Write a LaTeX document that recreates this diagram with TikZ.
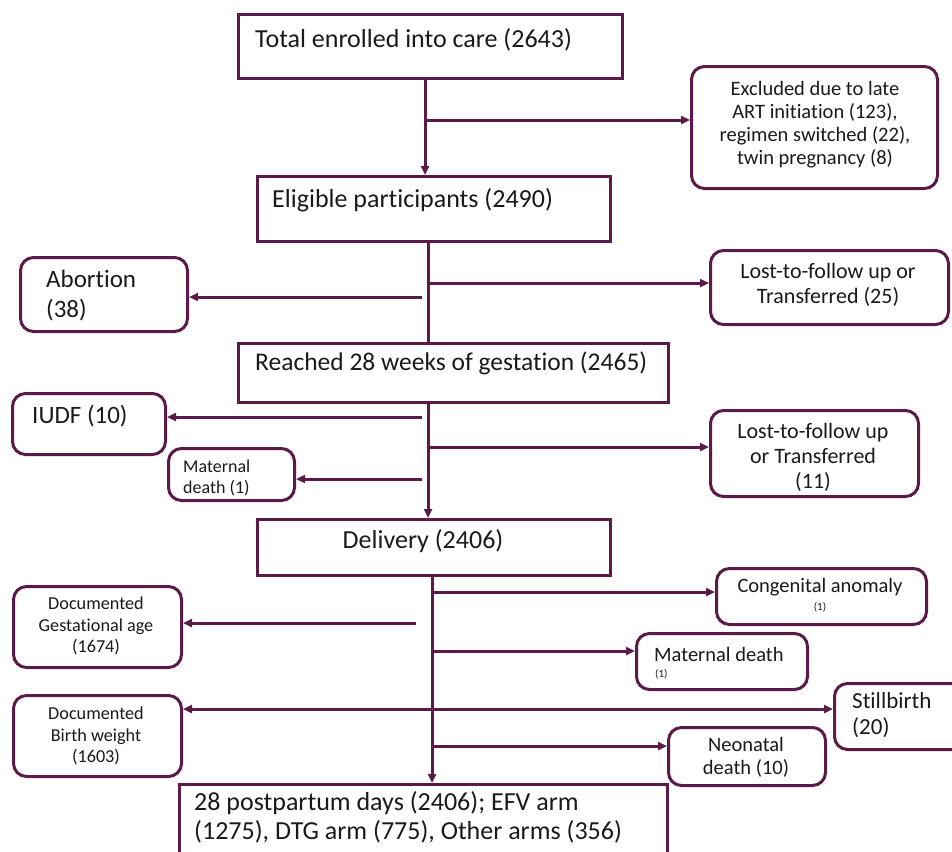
\documentclass[tikz,border=0pt]{standalone}
\usepackage{fontspec}
\setmainfont[Ligatures=NoCommon]{Carlito}
\usetikzlibrary{arrows.meta}
\definecolor{mar}{HTML}{5B1A47}
\definecolor{ink}{HTML}{1A1A1A}
\begin{document}
\begin{tikzpicture}[x=1pt,y=-1pt,
  sq/.style={draw=mar, line width=3pt, anchor=north west, inner sep=0pt, fill=white},
  rd/.style={sq, rounded corners=13pt},
  arr/.style={draw=mar, line width=3pt, -{Triangle[length=9pt,width=8pt]}},
  ln/.style={draw=mar, line width=3pt},
  tx/.style={text=ink, inner sep=0pt},
  fA/.style={tx, font=\fontsize{26}{30}\selectfont},
  fR/.style={tx, font=\fontsize{25.5}{30}\selectfont},
  fP/.style={tx, font=\fontsize{26}{29}\selectfont},
  fB/.style={tx, font=\fontsize{25}{30}\selectfont},
  fS/.style={tx, font=\fontsize{23}{26}\selectfont},
  fC/.style={tx, font=\fontsize{22}{25}\selectfont},
  fD/.style={tx, font=\fontsize{20.5}{23}\selectfont},
  fE/.style={tx, font=\fontsize{18.2}{21.5}\selectfont},
  fF/.style={tx, font=\fontsize{18}{21.5}\selectfont},
  fG/.style={tx, font=\fontsize{11}{13}\selectfont},
]
\useasboundingbox (0,0) rectangle (952,851);
\clip (0,0) rectangle (952,851);

% boxes
\node[sq, minimum width=384pt, minimum height=64pt] (total) at (237,13) {};
\node[rd, minimum width=246pt, minimum height=122pt] (excl) at (690,65) {};
\node[sq, minimum width=353pt, minimum height=65pt] (elig) at (256,175) {};
\node[rd, minimum width=167pt, minimum height=74pt] (abort) at (19,256) {};
\node[rd, minimum width=238pt, minimum height=74pt] (ltfa) at (709,249) {};
\node[sq, minimum width=430pt, minimum height=59pt] (reach) at (237,342) {};
\node[rd, minimum width=153pt, minimum height=61pt] (iudf) at (11,392) {};
\node[rd, minimum width=208pt, minimum height=86pt] (ltfb) at (709,409) {};
\node[rd, minimum width=126pt, minimum height=52pt] (matA) at (167,447) {};
\node[sq, minimum width=353pt, minimum height=56pt] (deliv) at (256,518) {};
\node[rd, minimum width=210pt, minimum height=56pt] (cong) at (715,567) {};
\node[rd, minimum width=168pt, minimum height=81pt] (gest) at (12,585) {};
\node[rd, minimum width=171pt, minimum height=56pt] (matB) at (635,632) {};
\node[rd, minimum width=168pt, minimum height=81pt] (bw) at (12,694) {};
\node[rd, minimum width=140pt, minimum height=66pt] (still) at (833,682) {};
\node[rd, minimum width=157pt, minimum height=58pt] (neo) at (667,726) {};
\node[sq, minimum width=488pt, minimum height=90pt] (post) at (178,783) {};

% texts
\node[fA, anchor=west] at (255,40) {Total enrolled into care (2643)};
\node[fD, align=center] at (815,125) {Excluded due to late\\ART initiation (123),\\regimen switched (22),\\twin pregnancy (8)};
\node[fA, anchor=west] at (272,200) {Eligible participants (2490)};
\node[fB, anchor=west, align=left] at (46,296) {Abortion\\(38)};
\node[fC, align=center] at (828,285) {Lost-to-follow up or\\Transferred (25)};
\node[fR, anchor=west] at (255,363) {Reached 28 weeks of gestation (2465)};
\node[fB, anchor=west] at (32,416) {IUDF (10)};
\node[fC, align=center] at (813,457) {Lost-to-follow up\\or Transferred\\(11)};
\node[fF, anchor=west, align=left] at (183,478) {Maternal\\death (1)};
\node[fA] at (423,541) {Delivery (2406)};
\node[fD] at (820,587) {Congenital anomaly};
\node[fG] at (820,607) {(1)};
\node[fE, align=center] at (96,626) {Documented\\Gestational age\\(1674)};
\node[fD, anchor=west] at (654,654) {Maternal death};
\node[fG, anchor=west] at (655,674) {(1)};
\node[fE, align=center] at (96,736) {Documented\\Birth weight\\(1603)};
\node[fS, anchor=west, align=left] at (852,715) {Stillbirth\\(20)};
\node[fD, align=center] at (746,757) {Neonatal\\death (10)};
\node[fP, anchor=west, align=left] at (194,817) {28 postpartum days (2406); EFV arm\\(1275), DTG arm (775), Other arms (356)};

% spine
\coordinate (xa) at (425,0);
\coordinate (xb) at (428,0);
\coordinate (xc) at (432,0);
\draw[arr] (total.south -| xa) -- (elig.north -| xa);
\draw[ln] (elig.south -| xb) -- (reach.north -| xb);
\draw[arr] (reach.south -| xb) -- (deliv.north -| xb);
\draw[arr] (deliv.south -| xc) -- (post.north -| xc);

% branches
\coordinate (b1) at (427,120);
\draw[arr] (b1) -- (b1 -| excl.west);
\coordinate (b2) at (422,297);
\draw[arr] (b2) -- (b2 -| abort.east);
\coordinate (b3) at (428,283);
\draw[arr] (b3) -- (b3 -| ltfa.west);
\coordinate (b4) at (422,417);
\draw[arr] (b4) -- (b4 -| iudf.east);
\coordinate (b5) at (428,447);
\draw[arr] (b5) -- (b5 -| ltfb.west);
\coordinate (b6) at (422,479);
\draw[arr] (b6) -- (b6 -| matA.east);
\coordinate (b7) at (432,592);
\draw[arr] (b7) -- (b7 -| cong.west);
\coordinate (b8) at (416,623);
\draw[arr] (b8) -- (b8 -| gest.east);
\coordinate (b9) at (432,651);
\draw[arr] (b9) -- (b9 -| matB.west);
\coordinate (b10) at (430,709);
\draw[arr] (b10) -- (b10 -| bw.east);
\draw[arr] (b10) -- (b10 -| still.west);
\coordinate (b11) at (432,746);
\draw[arr] (b11) -- (b11 -| neo.west);
\end{tikzpicture}
\end{document}
